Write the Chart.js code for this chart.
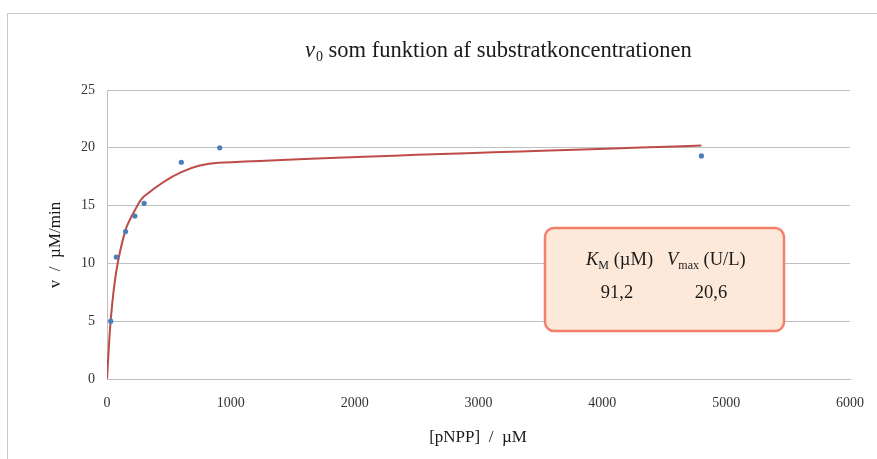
<!DOCTYPE html>
<html>
<head>
<meta charset="utf-8">
<script src="https://cdn.jsdelivr.net/npm/chart.js@4.4.0/dist/chart.umd.min.js"></script>
<style>
  html, body { margin: 0; padding: 0; background: #fff; }
  #wrap { position: relative; width: 877px; height: 459px; }
  #frame { position: absolute; left: 7px; top: 13px; right: 0; bottom: 0;
           border-top: 1px solid #c8c8c8; border-left: 1px solid #c8c8c8; }
  canvas { position: absolute; left: 0; top: 0; }
</style>
</head>
<body>
<div id="wrap">
  <div id="frame"></div>
  <canvas id="mmChart" width="877" height="459"></canvas>
</div>
<script>
// measured points: [pNPP] (µM) vs initial rate (µM/min)
const concentrations = [30, 75, 150, 225, 300, 600, 910, 4800];
const rates = [5.0, 10.55, 12.75, 14.1, 15.2, 18.75, 20.0, 19.3];

// fitted curve
const fitConc = [0, 30, 75, 150, 225, 300, 600, 900, 4800];
const fitRate = [0, 5.1, 9.3, 12.9, 14.6, 15.8, 17.9, 18.7, 20.2];

const xTicks = [0, 1000, 2000, 3000, 4000, 5000, 6000];
const yTicks = [0, 5, 10, 15, 20, 25];

const kmValue = '91,2';
const vmaxValue = '20,6';

const SERIF = '"Liberation Serif", "Times New Roman", serif';

// draws title, axis titles and the parameter box
const textPlugin = {
    id: 'texts',
    afterDraw(chart) {
        const ctx = chart.ctx;
        ctx.save();
        ctx.fillStyle = '#1a1a1a';
        ctx.textBaseline = 'alphabetic';
        ctx.textAlign = 'left';

        // title: v0 som funktion af substratkoncentrationen
        let x = 305;
        ctx.font = 'italic 22.5px ' + SERIF;
        ctx.fillText('v', x, 57);
        x += ctx.measureText('v').width + 1;
        ctx.font = '14px ' + SERIF;
        ctx.fillText('0', x, 61);
        x += ctx.measureText('0').width;
        ctx.font = '22.5px ' + SERIF;
        ctx.fillText(' som funktion af substratkoncentrationen', x, 57);

        // x axis title
        ctx.font = '17px ' + SERIF;
        ctx.textAlign = 'center';
        ctx.fillText('[pNPP]  /  µM', 478, 442);

        // y axis title
        ctx.save();
        ctx.translate(60, 245);
        ctx.rotate(-Math.PI / 2);
        ctx.fillText('v  /  µM/min', 0, 0);
        ctx.restore();

        // parameter box
        ctx.beginPath();
        ctx.roundRect(545, 228, 239, 103, 9);
        ctx.fillStyle = '#fde9d9';
        ctx.fill();
        ctx.lineWidth = 2.5;
        ctx.strokeStyle = '#f4806a';
        ctx.stroke();

        ctx.fillStyle = '#1a1a1a';
        ctx.textAlign = 'left';
        x = 586;
        ctx.font = 'italic 18.5px ' + SERIF;
        ctx.fillText('K', x, 265);
        x += ctx.measureText('K').width;
        ctx.font = '12px ' + SERIF;
        ctx.fillText('M', x, 269);
        x += ctx.measureText('M').width;
        ctx.font = '18.5px ' + SERIF;
        ctx.fillText(' (µM)', x, 265);

        x = 667;
        ctx.font = 'italic 18.5px ' + SERIF;
        ctx.fillText('V', x, 265);
        x += ctx.measureText('V').width;
        ctx.font = '12px ' + SERIF;
        ctx.fillText('max', x, 269);
        x += ctx.measureText('max').width;
        ctx.font = '18.5px ' + SERIF;
        ctx.fillText(' (U/L)', x, 265);

        ctx.textAlign = 'center';
        ctx.fillText(kmValue, 617, 298);
        ctx.fillText(vmaxValue, 711, 298);
        ctx.restore();
    }
};

new Chart(document.getElementById('mmChart'), {
    type: 'scatter',
    data: {
        datasets: [{
            label: 'Fit',
            type: 'line',
            data: fitConc.map((c, i) => ({ x: c, y: fitRate[i] })),
            borderColor: '#be4b48',
            borderWidth: 2,
            pointRadius: 0,
            fill: false,
            tension: 0.3,
            order: 2
        }, {
            label: 'Data',
            data: concentrations.map((c, i) => ({ x: c, y: rates[i] })),
            backgroundColor: '#4a7ebb',
            borderWidth: 0,
            pointRadius: 2.6,
            order: 1
        }]
    },
    options: {
        responsive: false,
        animation: false,
        layout: { padding: { top: 90, right: 27, left: 0, bottom: 0 } },
        plugins: {
            legend: { display: false },
            tooltip: { enabled: false },
            title: { display: false }
        },
        scales: {
            x: {
                type: 'linear',
                min: 0,
                max: 6000,
                afterFit(s) { s.height = 80; },
                afterBuildTicks(s) { s.ticks = xTicks.map(v => ({ value: v })); },
                grid: { display: false },
                border: { display: true, color: '#bfbfbf', width: 1 },
                ticks: {
                    padding: 8,
                    color: '#333',
                    font: { family: SERIF, size: 14 },
                    callback: v => String(v)
                }
            },
            y: {
                min: 0,
                max: 25,
                afterFit(s) { s.width = 107; },
                afterBuildTicks(s) { s.ticks = yTicks.map(v => ({ value: v })); },
                grid: { color: '#bfbfbf', drawTicks: false },
                border: { display: true, color: '#bfbfbf', width: 1 },
                ticks: {
                    padding: 12,
                    color: '#333',
                    font: { family: SERIF, size: 14 }
                }
            }
        }
    },
    plugins: [textPlugin]
});
</script>
</body>
</html>
